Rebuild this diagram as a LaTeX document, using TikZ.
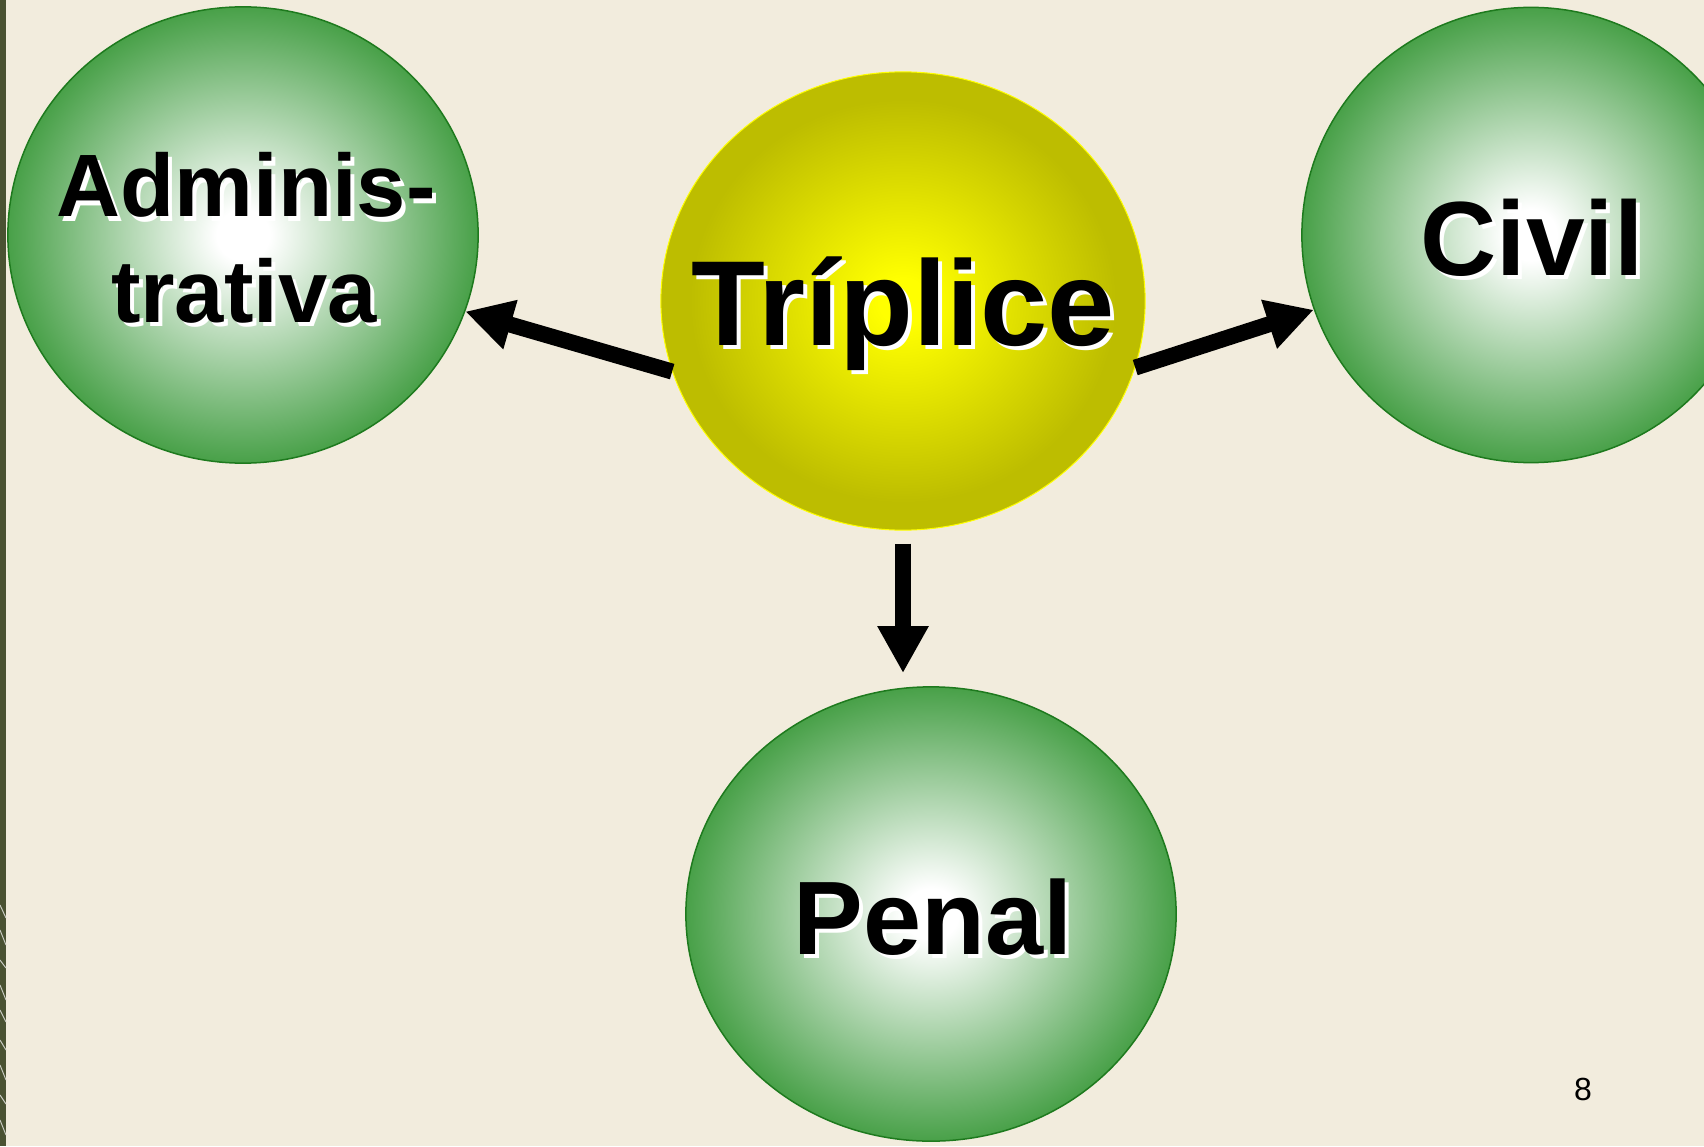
\documentclass[tikz,border=0pt]{standalone}
\usepackage{fontspec}
\setmainfont{Liberation Sans}
\usetikzlibrary{arrows.meta,shapes.geometric,calc}
\definecolor{bg}{HTML}{F2ECDD}
\definecolor{gOut}{HTML}{3C9A3C}
\definecolor{gLine}{HTML}{1E7A1E}
\definecolor{yIn}{HTML}{FFFF00}
\definecolor{yOut}{HTML}{BDBD00}
\definecolor{stripc}{HTML}{4A5232}
\pgfdeclareradialshading{greenball}{\pgfpoint{0bp}{0bp}}{color(0bp)=(white); color(2.8bp)=(white); color(26.5bp)=(gOut); color(50bp)=(gOut)}
\pgfdeclareradialshading{yellowball}{\pgfpoint{0bp}{0bp}}{color(0bp)=(yIn); color(2.5bp)=(yIn); color(22bp)=(yOut); color(50bp)=(yOut)}
\newcommand\shtxt[1]{\makebox[0pt][l]{\hspace*{0.04cm}\raisebox{-0.04cm}{\color{white}#1}}#1}
\tikzset{
  ball/.style={ellipse, draw=gLine, line width=0.015cm, shade, shading=greenball, inner sep=0pt},
  triball/.style={ellipse, draw=yIn, line width=0.01cm, shade, shading=yellowball, inner sep=0pt},
  lbl/.style={anchor=base, inner sep=0pt, text=black},
  arr/.style={line width=0.16cm, -{Triangle[width=0.48cm,length=0.47cm]}}
}
\begin{document}
\begin{tikzpicture}[x=0.01cm,y=-0.01cm]
\fill[bg] (0,0) rectangle (1704,1146);
\useasboundingbox (0,0) rectangle (1704,1146);
\fill[stripc] (0,0) rectangle (6,1146);
\foreach \a/\b in {905/918, 930/945, 960/968, 985/1000, 1010/1022, 1040/1050, 1065/1080, 1095/1104, 1120/1135}
  \draw[white!70!stripc, line width=0.01cm] (0,\a) -- (6,\b);

\node[ball, minimum width=4.70cm, minimum height=4.56cm] (adm) at (243,235) {};
\node[triball, minimum width=4.84cm, minimum height=4.58cm] (tri) at (903,301) {};
\node[ball, minimum width=4.58cm, minimum height=4.55cm] (civ) at (1531,235) {};
\node[ball, minimum width=4.90cm, minimum height=4.54cm] (pen) at (931,914) {};

\node[lbl, font=\bfseries\fontsize{25.2pt}{30pt}\selectfont] (admA) at (246,217) {\shtxt{Adminis-}};
\node[lbl, font=\bfseries\fontsize{25.2pt}{30pt}\selectfont] (admB) at (244,322) {\shtxt{trativa}};
\node[lbl, font=\bfseries\fontsize{34.4pt}{40pt}\selectfont] (triT) at (903,345) {\shtxt{Tríplice}};
\node[lbl, font=\bfseries\fontsize{30pt}{36pt}\selectfont] (civT) at (1532,275) {\shtxt{Civil}};
\node[lbl, font=\bfseries\fontsize{29.7pt}{36pt}\selectfont] (penT) at (933,954) {\shtxt{Penal}};

\draw[arr] (tri.197.7) -- (adm.-19);
\draw[arr] (tri.-16.7) -- (civ.199.6);
\draw[arr] ($(tri.south)+(0,13)$) -- ($(tri.south |- pen.north)+(0,-13)$);

\node[font=\fontsize{9.1pt}{11pt}\selectfont, inner sep=0pt] (pg) at (1583,1089) {8};
\end{tikzpicture}
\end{document}
